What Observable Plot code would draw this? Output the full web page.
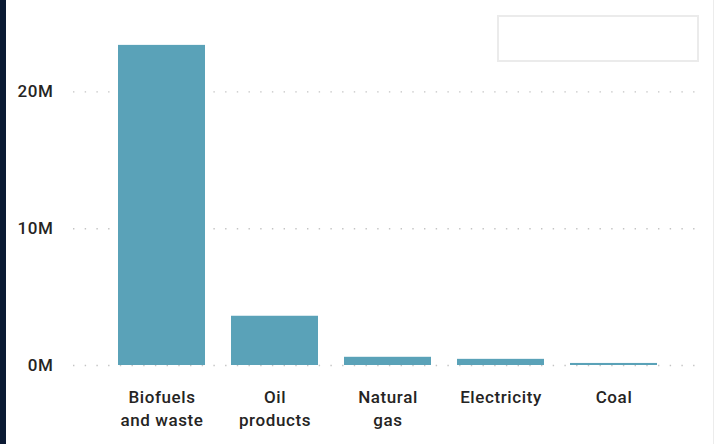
<!DOCTYPE html>
<html>
<head>
<meta charset="utf-8">
<script src="https://cdn.jsdelivr.net/npm/d3@7"></script>
<script src="https://cdn.jsdelivr.net/npm/@observablehq/plot@0.6"></script>
<style>
  html, body { margin: 0; padding: 0; background: #ffffff; }
  #wrap { position: relative; width: 717px; height: 444px; overflow: hidden; background: #ffffff; }
  #edge { position: absolute; left: 0; top: 0; width: 6px; height: 444px; background: #0b1a33; }
  #rightEdge { position: absolute; left: 713px; top: 0; width: 1px; height: 444px; background: #ececec; }
  #slicer { position: absolute; left: 497px; top: 15px; width: 198px; height: 43px; border: 2px solid #ebebeb; background: #ffffff; }
  #chart svg { display: block; }
  #chart svg text { letter-spacing: 0.6px; }
</style>
</head>
<body>
<div id="wrap">
  <div id="chart"></div>
  <div id="edge"></div>
  <div id="rightEdge"></div>
  <div id="slicer"></div>
</div>
<script>
// Final energy consumption by source
const sources = ["Biofuels\nand waste", "Oil\nproducts", "Natural\ngas", "Electricity", "Coal"];
const consumption = [23.4e6, 3.6e6, 0.6e6, 0.45e6, 0.15e6];
const yTicks = [0, 10e6, 20e6];

const rows = sources.map((s, i) => ({source: s, value: consumption[i]}));

const chart = Plot.plot({
  width: 717,
  height: 444,
  marginLeft: 73,
  marginRight: 14,
  marginTop: 23,
  marginBottom: 79,
  style: {fontFamily: "Roboto, sans-serif", fontSize: "17px", color: "#252423", background: "transparent"},
  x: {domain: sources, paddingInner: 0.23, paddingOuter: 0.385, label: null},
  y: {domain: [0, 25e6], label: null},
  marks: [
    Plot.ruleY(yTicks, {stroke: "#c4c4c4", strokeWidth: 1.4, strokeDasharray: "1.4,10.3"}),
    Plot.barY(rows, {x: "source", y: "value", fill: "#5aa2b8"}),
    Plot.axisY({
      ticks: yTicks,
      tickFormat: d => (d / 1e6) + "M",
      tickSize: 0,
      tickPadding: 20,
      fontSize: 17,
      fontWeight: 500,
      fill: "#252423"
    }),
    Plot.axisX({
      tickSize: 0,
      tickPadding: 21,
      fontSize: 17,
      fontWeight: 500,
      lineHeight: 1.35,
      fill: "#252423"
    })
  ]
});
document.getElementById("chart").appendChild(chart);
</script>
</body>
</html>
